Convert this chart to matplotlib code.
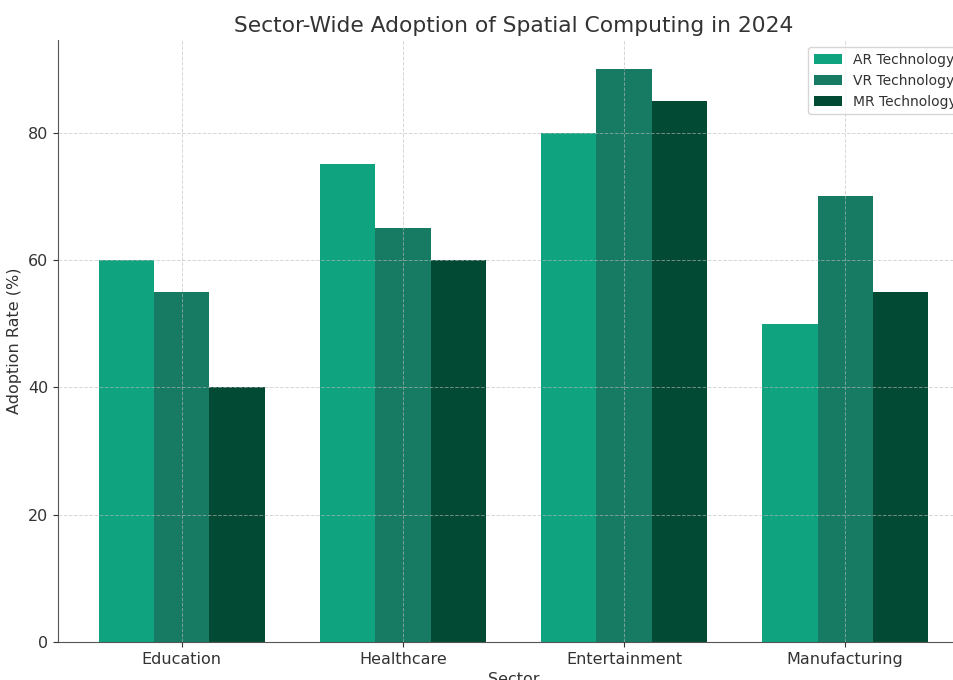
import numpy as np
import matplotlib.pyplot as plt

sectors = ['Education', 'Healthcare', 'Entertainment', 'Manufacturing']
ar_tech = [60, 75, 80, 50]
vr_tech = [55, 65, 90, 70]
mr_tech = [40, 60, 85, 55]

plt.rcParams['font.family'] = 'DejaVu Sans'
plt.rcParams['text.color'] = '#333333'
plt.rcParams['axes.labelcolor'] = '#333333'
plt.rcParams['xtick.color'] = '#333333'
plt.rcParams['ytick.color'] = '#333333'

fig = plt.figure(figsize=(9.54, 6.8), dpi=100)
ax = fig.add_axes([0.0608, 0.0559, 0.955, 0.885])

x = np.arange(len(sectors))
w = 0.25
ax.bar(x - w, ar_tech, w, color='#10a37f', label='AR Technology', zorder=1)
ax.bar(x, vr_tech, w, color='#177a62', label='VR Technology', zorder=1)
ax.bar(x + w, mr_tech, w, color='#034a35', label='MR Technology', zorder=1)

ax.grid(True, linestyle='--', color='#bbbbbb', linewidth=0.7, alpha=0.6, zorder=2)
ax.set_axisbelow(False)
ax.set_xticks(x)
ax.set_xticklabels(sectors, fontsize=11.5)
ax.tick_params(axis='y', labelsize=11.5)
ax.set_xlim(-0.56, 3.56)
ax.set_ylim(0, 94.5)
ax.set_xlabel('Sector', fontsize=11.5)
ax.set_ylabel('Adoption Rate (%)', fontsize=11.5)
ax.set_title('Sector-Wide Adoption of Spatial Computing in 2024', fontsize=15.7, pad=6)
ax.spines['top'].set_visible(False)
ax.spines['right'].set_visible(False)
for s in ['left', 'bottom']:
    ax.spines[s].set_color('#555555')
ax.legend(loc='upper right', fontsize=10)

fig.savefig('out.png', dpi=100)
